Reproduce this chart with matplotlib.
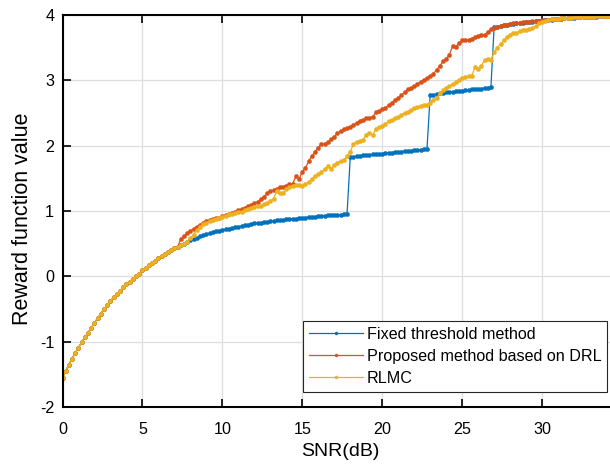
import numpy as np
import matplotlib
matplotlib.use("Agg")
import matplotlib.pyplot as plt

plt.rcParams['font.family'] = ['Liberation Sans', 'DejaVu Sans']
plt.rcParams['axes.unicode_minus'] = False

# SNR grid (dB)
snr = np.round(np.arange(0, 34.41, 0.2), 1)

# shared part of all three curves, SNR 0 .. 7.2 dB
common = [-1.55, -1.45, -1.35, -1.26, -1.17, -1.09, -1.01, -0.93, -0.86, -0.79,
          -0.71, -0.64, -0.57, -0.50, -0.44, -0.38, -0.32, -0.27, -0.22, -0.17,
          -0.12, -0.08, -0.04, 0.00, 0.04, 0.09, 0.13, 0.17, 0.21, 0.24,
          0.28, 0.31, 0.34, 0.37, 0.40, 0.43, 0.45]

# Fixed threshold method, SNR 7.4 .. 34.4 dB
fixed_tail = [0.48, 0.50, 0.53, 0.55, 0.57, 0.59, 0.61, 0.63, 0.645, 0.66,
              0.675, 0.69, 0.70, 0.71, 0.72, 0.73, 0.74, 0.75, 0.76, 0.77,
              0.78, 0.79, 0.80, 0.81, 0.815, 0.82, 0.83, 0.835, 0.84, 0.85,
              0.855, 0.86, 0.865, 0.87, 0.875, 0.88, 0.885, 0.89, 0.895, 0.90,
              0.905, 0.91, 0.915, 0.92, 0.925, 0.93, 0.933, 0.937, 0.94, 0.943,
              0.946, 0.95, 0.953,
              1.82, 1.83, 1.84, 1.845, 1.85, 1.855, 1.86, 1.865, 1.87, 1.875,
              1.88, 1.885, 1.89, 1.895, 1.90, 1.905, 1.91, 1.915, 1.92, 1.925,
              1.93, 1.935, 1.94, 1.945, 1.95,
              2.77, 2.78, 2.79, 2.80, 2.81, 2.815, 2.82, 2.825, 2.83, 2.835,
              2.84, 2.845, 2.85, 2.86, 2.865, 2.87, 2.875, 2.88, 2.89, 2.90,
              3.81, 3.82, 3.83, 3.84, 3.85, 3.86, 3.865, 3.87, 3.88, 3.885,
              3.89, 3.895, 3.90, 3.905, 3.91, 3.915, 3.92, 3.925, 3.93, 3.935,
              3.94, 3.945, 3.95, 3.953, 3.956, 3.96, 3.963, 3.966, 3.968, 3.97,
              3.972, 3.975, 3.977, 3.979, 3.98, 3.982, 3.984, 3.985]

# Proposed method based on DRL, SNR 7.4 .. 34.4 dB
drl_tail = [0.57, 0.62, 0.66, 0.69, 0.73, 0.76, 0.79, 0.82, 0.84, 0.86,
            0.88, 0.89, 0.90, 0.92, 0.94, 0.95, 0.97, 0.99, 1.01, 1.03,
            1.05, 1.07, 1.09, 1.12, 1.14, 1.18, 1.22, 1.27, 1.30, 1.32,
            1.34, 1.36, 1.37, 1.39, 1.41, 1.42, 1.53, 1.49, 1.60, 1.66,
            1.76, 1.84, 1.91, 1.97, 2.03, 2.03, 2.05, 2.10, 2.14, 2.19,
            2.22, 2.25, 2.27, 2.29, 2.32, 2.35, 2.38, 2.40, 2.42, 2.43,
            2.44, 2.51, 2.53, 2.56, 2.58, 2.62, 2.66, 2.70, 2.73, 2.77,
            2.82, 2.86, 2.88, 2.91, 2.94, 2.98, 3.01, 3.03, 3.06, 3.10,
            3.16, 3.22, 3.29, 3.33, 3.39, 3.52, 3.51, 3.57, 3.61, 3.62,
            3.62, 3.64, 3.66, 3.68, 3.70, 3.69, 3.74, 3.78, 3.80, 3.815,
            3.83, 3.84, 3.85, 3.86, 3.87, 3.875, 3.88, 3.89, 3.895, 3.90,
            3.905, 3.91, 3.915, 3.92, 3.925, 3.93, 3.935, 3.94, 3.945, 3.95,
            3.953, 3.956, 3.96, 3.963, 3.966, 3.968, 3.97, 3.972, 3.975, 3.977,
            3.979, 3.98, 3.982, 3.984, 3.985, 3.986]

# RLMC, SNR 7.4 .. 34.4 dB
rlmc_tail = [0.48, 0.50, 0.53, 0.58, 0.64, 0.71, 0.76, 0.80, 0.82, 0.84,
             0.86, 0.88, 0.90, 0.91, 0.93, 0.95, 0.96, 0.97, 0.98, 0.99,
             1.01, 1.03, 1.04, 1.06, 1.07, 1.08, 1.10, 1.12, 1.15, 1.19,
             1.30, 1.28, 1.28, 1.33, 1.36, 1.39, 1.40, 1.40, 1.39, 1.42,
             1.44, 1.49, 1.53, 1.56, 1.60, 1.64, 1.69, 1.65, 1.70, 1.74,
             1.76, 1.78, 1.84, 1.91, 2.02, 2.06, 2.07, 2.09, 2.17, 2.19,
             2.16, 2.26, 2.28, 2.30, 2.33, 2.37, 2.39, 2.42, 2.44, 2.47,
             2.50, 2.52, 2.55, 2.58, 2.59, 2.61, 2.62, 2.63, 2.66, 2.70,
             2.73, 2.80, 2.85, 2.88, 2.91, 2.94, 2.97, 3.00, 3.03, 3.05,
             3.06, 3.07, 3.20, 3.17, 3.22, 3.31, 3.32, 3.31, 3.43, 3.50,
             3.56, 3.61, 3.66, 3.70, 3.72, 3.73, 3.75, 3.77, 3.77, 3.78,
             3.80, 3.83, 3.87, 3.90, 3.91, 3.925, 3.935, 3.94, 3.945, 3.95,
             3.953, 3.956, 3.96, 3.963, 3.966, 3.968, 3.97, 3.972, 3.975, 3.977,
             3.979, 3.98, 3.982, 3.984, 3.985, 3.986]

fixed = common + fixed_tail
drl = common + drl_tail
rlmc = common + rlmc_tail

labels = ['Fixed threshold method', 'Proposed method based on DRL', 'RLMC']
colors = ['#0072BD', '#D95319', '#EDB120']
x_ticks = [0, 5, 10, 15, 20, 25, 30]
y_ticks = [-2, -1, 0, 1, 2, 3, 4]

W, H = 610, 471
fig = plt.figure(figsize=(W / 100, H / 100), dpi=100)
ax = fig.add_axes([62.5 / W, 64 / H, (622 - 62.5) / W, 392 / H])

for ys, c, lab in zip([fixed, drl, rlmc], colors, labels):
    ax.plot(snr, ys, color=c, lw=0.9, marker='o', ms=3.0, mec=c, mew=0.3,
            label=lab)

ax.set_xlim(0, 35)
ax.set_ylim(-2, 4)
ax.set_xticks(x_ticks)
ax.set_yticks(y_ticks)
ax.grid(True, color='#dedede', lw=0.9)
ax.set_axisbelow(True)

for side in ['left', 'bottom', 'top']:
    ax.spines[side].set_linewidth(1.5)
    ax.spines[side].set_color('black')
ax.spines['right'].set_visible(False)

ax.tick_params(direction='in', length=6, width=1.2, top=True, right=False,
               labelsize=11.6, colors='black')
ax.tick_params(axis='x', pad=11)
ax.tick_params(axis='y', pad=6)

ax.set_xlabel('SNR(dB)', fontsize=14)
ax.set_ylabel('Reward function value', fontsize=15.5)
ax.xaxis.set_label_coords(0.496, -0.092)
ax.yaxis.set_label_coords(-0.053, 0.48)

leg = ax.legend(loc='upper right', bbox_to_anchor=(607 / W, 1 - 321 / H),
                bbox_transform=fig.transFigure, borderaxespad=0,
                fontsize=11.6, handlelength=3.35, handletextpad=0.25,
                borderpad=0.35, labelspacing=0.45, fancybox=False,
                framealpha=1, edgecolor='#262626')
leg.get_frame().set_linewidth(0.8)
for h in leg.get_lines():
    h.set_markersize(2.2)

fig.savefig('out.png', dpi=100)
